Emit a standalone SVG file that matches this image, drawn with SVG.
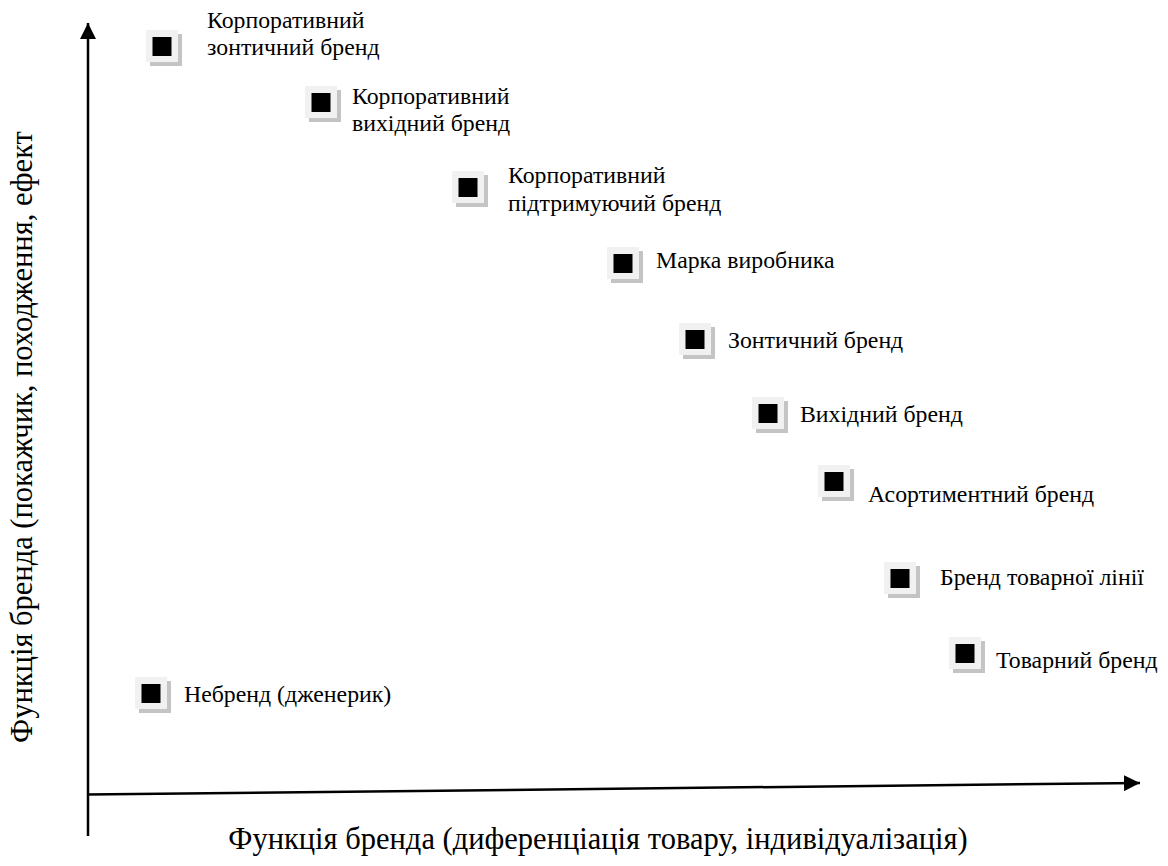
<svg xmlns="http://www.w3.org/2000/svg" width="1168" height="866" viewBox="0 0 1168 866">
  <style>
    text { font-family: 'Liberation Serif', 'Times New Roman', serif; fill: #000; }
    .lbl { font-size: 23.8px; }
    .axis-lbl { font-size: 30.5px; }
    .axis { stroke: #000; stroke-width: 2.5; fill: none; }
  </style>
  <defs>
    <!-- square bullet: drop shadow, light plate, black core -->
    <g id="bullet">
      <rect x="4" y="4" width="32" height="32" fill="#c4c4c4"/>
      <rect x="0" y="0" width="32" height="32" fill="#f1f1f1"/>
      <rect x="6.5" y="7" width="19" height="19" fill="#000"/>
    </g>
    <marker id="arrow" markerUnits="userSpaceOnUse" markerWidth="17" markerHeight="16" refX="16" refY="8" orient="auto">
      <path d="M0,0 L16,8 L0,16 Z" fill="#000"/>
    </marker>
  </defs>

  <!-- axes -->
  <g id="connectors">
    <line class="axis" x1="88" y1="836" x2="88" y2="23" marker-end="url(#arrow)"/>
    <line class="axis" x1="87" y1="794.5" x2="1140" y2="783" marker-end="url(#arrow)"/>
  </g>

  <!-- axis titles -->
  <g id="axis-x-title">
    <text class="axis-lbl" x="598" y="849" text-anchor="middle">Функція бренда (диференціація товару, індивідуалізація)</text>
  </g>
  <g id="axis-y-title">
    <text class="axis-lbl" transform="translate(32,437) rotate(-90)" text-anchor="middle">Функція бренда (покажчик, походження, ефект</text>
  </g>

  <!-- brand types -->
  <g id="corporate-umbrella">
    <use href="#bullet" x="146" y="30"/>
    <text class="lbl" x="207" y="28">Корпоративний</text>
    <text class="lbl" x="207" y="55">зонтичний бренд</text>
  </g>
  <g id="corporate-endorsing">
    <use href="#bullet" x="305" y="86"/>
    <text class="lbl" x="352" y="104">Корпоративний</text>
    <text class="lbl" x="352" y="131">вихідний бренд</text>
  </g>
  <g id="corporate-supporting">
    <use href="#bullet" x="452" y="171"/>
    <text class="lbl" x="508" y="183">Корпоративний</text>
    <text class="lbl" x="508" y="211">підтримуючий бренд</text>
  </g>
  <g id="manufacturer-mark">
    <use href="#bullet" x="607" y="247"/>
    <text class="lbl" x="656" y="268">Марка виробника</text>
  </g>
  <g id="umbrella-brand">
    <use href="#bullet" x="679" y="323"/>
    <text class="lbl" x="728" y="348">Зонтичний бренд</text>
  </g>
  <g id="endorsing-brand">
    <use href="#bullet" x="752" y="397"/>
    <text class="lbl" x="800" y="422">Вихідний бренд</text>
  </g>
  <g id="range-brand">
    <use href="#bullet" x="818" y="465"/>
    <text class="lbl" x="868" y="502">Асортиментний бренд</text>
  </g>
  <g id="line-brand">
    <use href="#bullet" x="884" y="562"/>
    <text class="lbl" x="940" y="585">Бренд товарної лінії</text>
  </g>
  <g id="product-brand">
    <use href="#bullet" x="949" y="637"/>
    <text class="lbl" x="996" y="668">Товарний бренд</text>
  </g>
  <g id="generic">
    <use href="#bullet" x="135" y="677"/>
    <text class="lbl" x="184" y="702">Небренд (дженерик)</text>
  </g>
</svg>
